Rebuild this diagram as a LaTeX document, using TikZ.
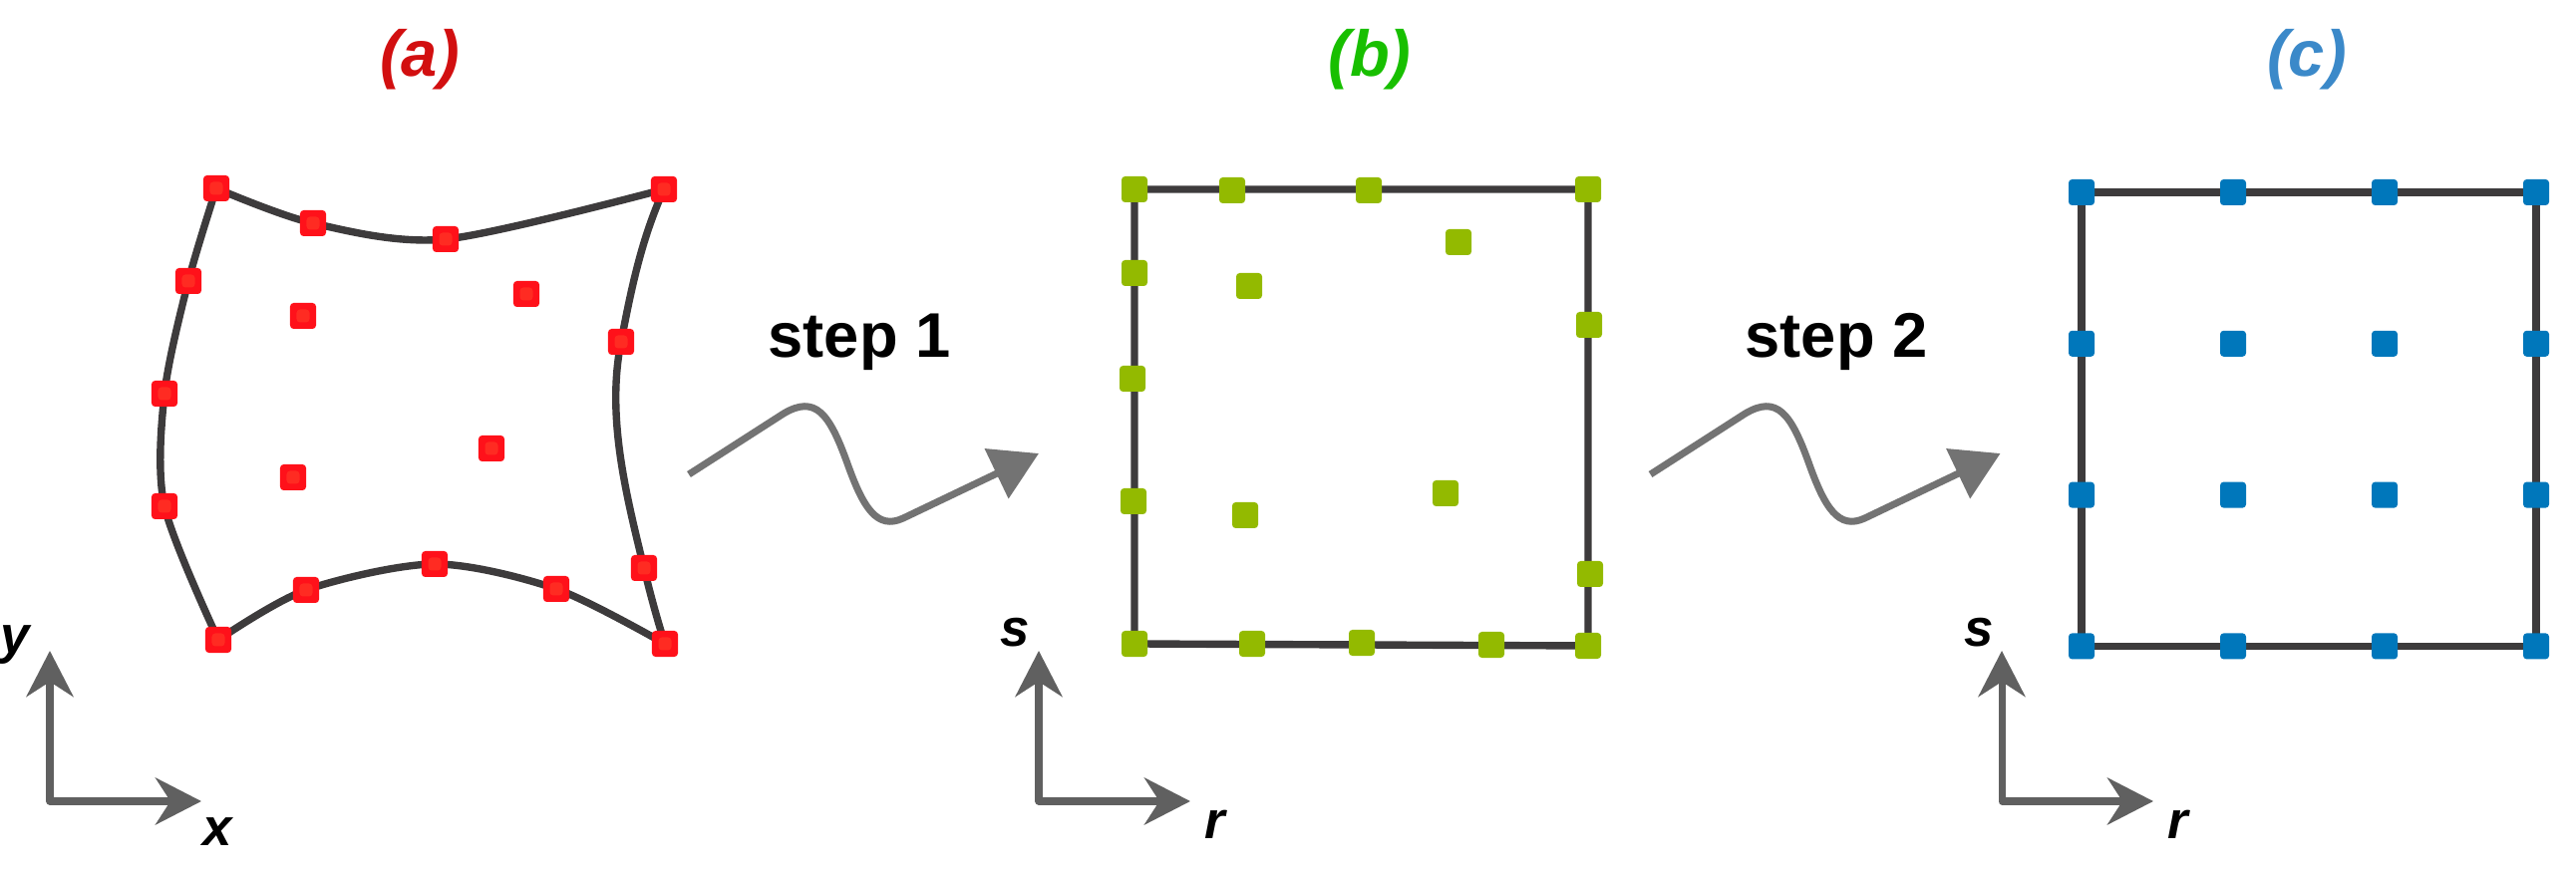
\documentclass[tikz,border=0pt]{standalone}
\usepackage{fontspec}
\setmainfont{Liberation Sans}
\usepackage{tikz}
\usetikzlibrary{arrows.meta, backgrounds}
\definecolor{meshgray}{HTML}{3D3B3C}
\definecolor{ptred}{HTML}{FF111A}
\definecolor{ptredin}{HTML}{FF2B22}
\definecolor{ptgreen}{HTML}{93BA00}
\definecolor{ptblue}{HTML}{0077BB}
\definecolor{wiggray}{HTML}{737373}
\definecolor{axgray}{HTML}{606060}
\definecolor{ttlred}{HTML}{D20F10}
\definecolor{ttlgreen}{HTML}{18BF00}
\definecolor{ttlblue}{HTML}{3B89C9}

\begin{document}
\begin{tikzpicture}[x=0.01cm, y=-0.01cm,
  meshpt/.style={rectangle, minimum size=0.26cm, inner sep=0pt, rounded corners=1pt},
  redpt/.style={meshpt, fill=ptred, path picture={\fill[ptredin] ([shift={(-0.065cm,-0.065cm)}]path picture bounding box.center) rectangle ++(0.13cm,0.13cm);}},
  greenpt/.style={meshpt, fill=ptgreen},
  bluept/.style={meshpt, fill=ptblue},
  bnd/.style={line width=2.1pt, draw=meshgray, line join=round},
  wiggle/.style={line width=2pt, draw=wiggray, -{Triangle[length=0.47cm, width=0.54cm]}},
  axarrow/.style={line width=2pt, draw=axgray, line join=round, {Stealth[length=0.46cm, width=0.47cm, inset=0.15cm]}-{Stealth[length=0.46cm, width=0.47cm, inset=0.15cm]}},
  ttl/.style={font=\fontsize{18.5}{22}\selectfont\bfseries\itshape},
  steplbl/.style={font=\fontsize{18}{22}\selectfont\bfseries, anchor=base},
  axlbl/.style={font=\fontsize{15}{18}\selectfont\bfseries\itshape}
]
\useasboundingbox (0,0) rectangle (2584,880);

% ===== Titles =====
\node[ttl, text=ttlred]   (ttl-a) at (421,60)  {(a)};
\node[ttl, text=ttlgreen] (ttl-b) at (1374,60) {(b)};
\node[ttl, text=ttlblue]  (ttl-c) at (2314,60) {(c)};

% ===== (a) physical element =====
\foreach \n/\x/\y in {nw/217/189, n1/314/224, n2/447/240, ne/666/190,
    w1/189/282, w2/165/395, w3/165/508, sw/219/642,
    s1/307/592, s2/436/566, s3/558/591, se/667/646,
    e1/623/343, e2/646/570,
    i1/304/317, i2/528/295, i3/294/479, i4/493/450}
  \node[redpt] (a-\n) at (\x,\y) {};

% ===== (b) after step 1 =====
\foreach \n/\x/\y in {nw/1138/190, n1/1236/191, n2/1373/191, ne/1593/190,
    w1/1138/274, w2/1136/380, w3/1137/503, sw/1138/646,
    s1/1256/646, s2/1366/645, s3/1496/647, se/1593/648,
    e1/1594/326, e2/1595/576,
    i1/1253/287, i2/1463/243, i3/1249/517, i4/1450/495}
  \node[greenpt] (b-\n) at (\x,\y) {};

% ===== (c) after step 2 =====
\foreach \i in {0,...,3}
  \foreach \j in {0,...,3}
    \node[bluept] (c\i\j) at ({2088+152*\i},{193+151.8*\j}) {};

% element boundaries
\begin{scope}[on background layer]
\draw[bnd] plot[smooth] coordinates {(a-nw.center) (a-n1.center) (a-n2.center) (a-ne.center)};
\draw[bnd] plot[smooth] coordinates {(a-nw.center) (a-w1.center) (a-w2.center) (a-w3.center) (a-sw.center)};
\draw[bnd] plot[smooth] coordinates {(a-sw.center) (a-s1.center) (a-s2.center) (a-s3.center) (a-se.center)};
\draw[bnd] (a-ne.center) .. controls (643,241) and (633,291) .. (a-e1.center)
  .. controls (608,418) and (628,496) .. (a-e2.center)
  .. controls (652,595) and (659,621) .. (a-se.center);
\draw[bnd] (b-nw.center) -- (b-ne.center) -- (b-se.center) -- (b-sw.center) -- cycle;
\draw[bnd] (c00.center) -- (c30.center) -- (c33.center) -- (c03.center) -- cycle;
\end{scope}

% ===== Steps =====
\node[steplbl] (step1) at (862,359)  {step 1};
\node[steplbl] (step2) at (1842,359) {step 2};
\foreach \k/\sh in {1/0cm, 2/9.64cm}{
  \begin{scope}[xshift=\sh]
    \coordinate (w\k-from) at (691,476);
    \coordinate (w\k-to) at (1042,455);
    \draw[wiggle] (w\k-from) -- (786,415) .. controls (818,396) and (832,415) .. (850,465)
      .. controls (866,510) and (880,532) .. (906,520) -- (w\k-to);
  \end{scope}
}

% ===== Coordinate frames =====
\foreach \k/\ox in {a/50, b/1042, c/2008}{
  \coordinate (ax\k-o) at (\ox,804);
  \coordinate (ax\k-v) at (\ox,653);
  \coordinate (ax\k-h) at ({\ox+152},804);
  \draw[axarrow] (ax\k-v) -- (ax\k-o) -- (ax\k-h);
}
\node[axlbl] (lbl-y)  at (15,647)   {y};
\node[axlbl] (lbl-x)  at (218,835)  {x};
\node[axlbl] (lbl-s1) at (1018,635) {s};
\node[axlbl] (lbl-r1) at (1219,827) {r};
\node[axlbl] (lbl-s2) at (1985,635) {s};
\node[axlbl] (lbl-r2) at (2185,827) {r};

\end{tikzpicture}
\end{document}
